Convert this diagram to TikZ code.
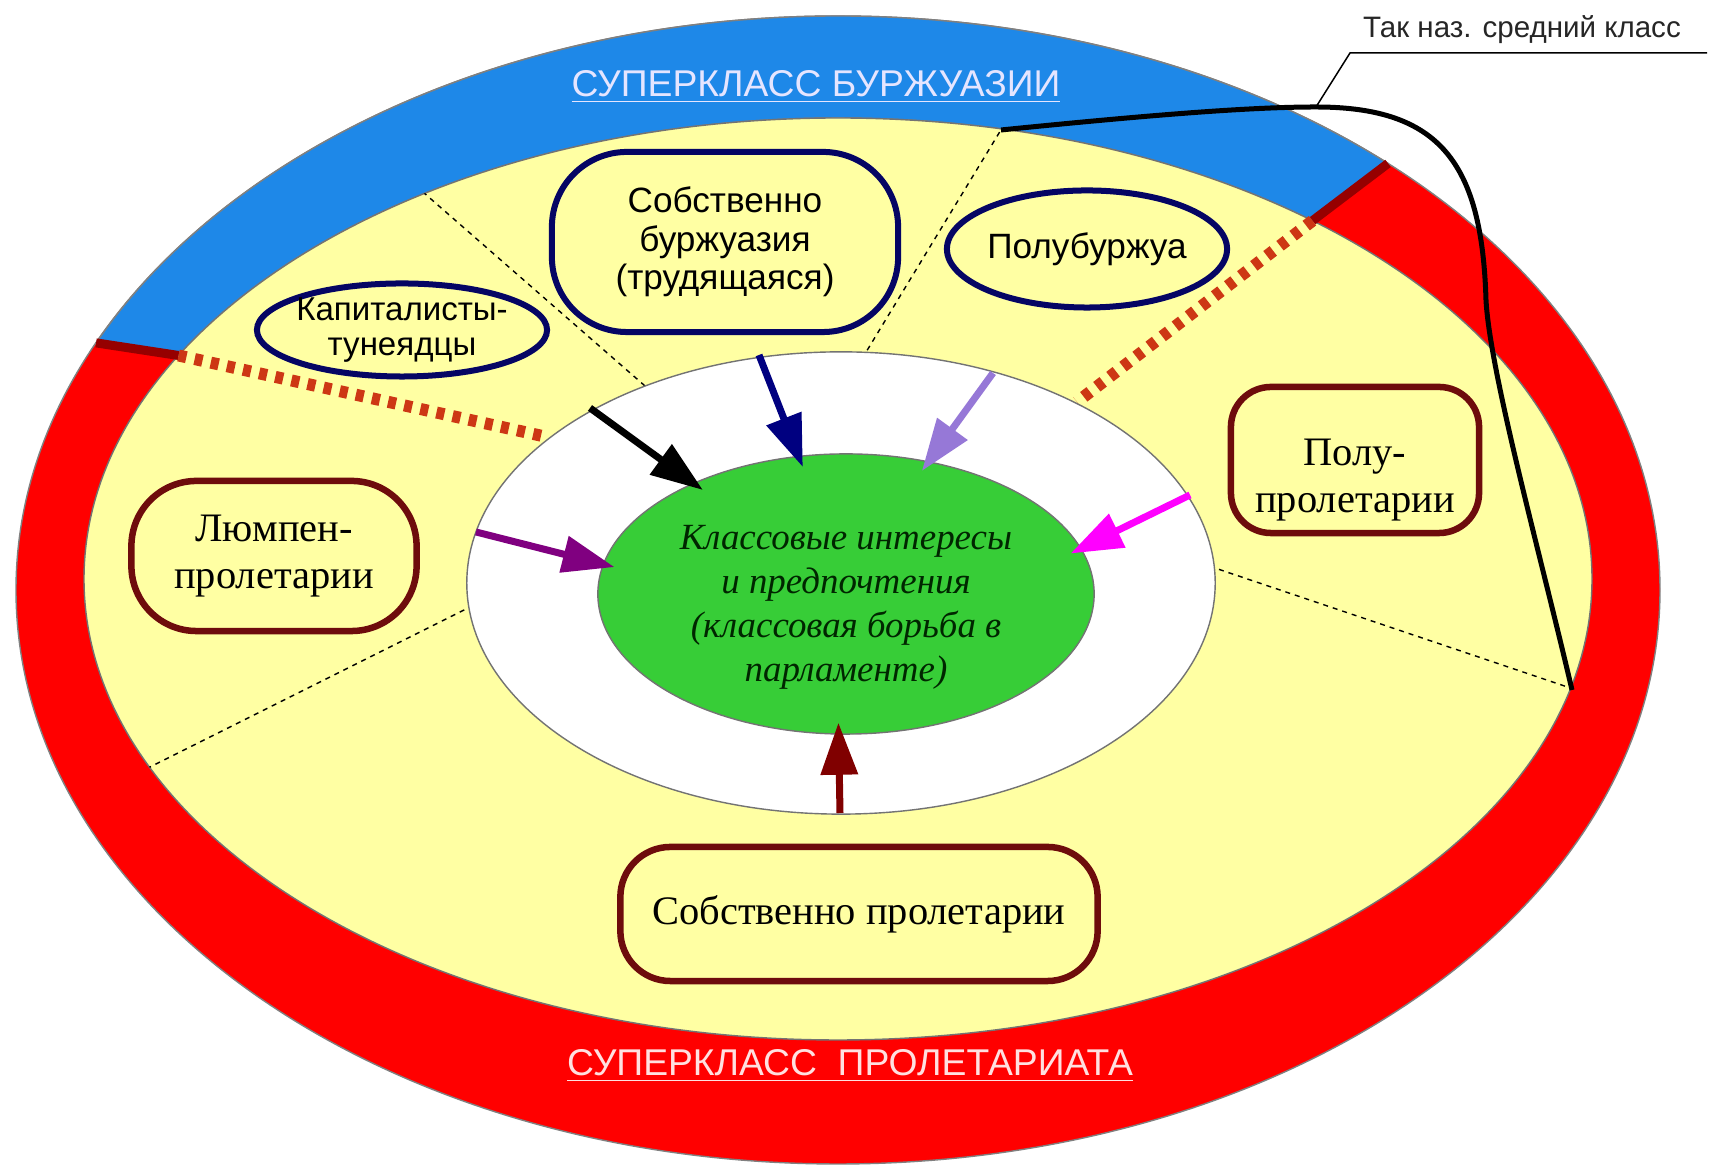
\documentclass[tikz,border=0pt]{standalone}
\usepackage{fontspec}
\setmainfont{Liberation Serif}
\setsansfont{Liberation Sans}
\usepackage{tikz,xcolor}
\usetikzlibrary{shapes.geometric, arrows.meta, positioning}

\begin{document}
\begin{tikzpicture}[x=0.01cm, y=0.01cm]

\definecolor{bourgblue}{RGB}{30,136,232}
\definecolor{paleyellow}{RGB}{255,255,163}
\definecolor{coregreen}{RGB}{55,205,55}
\definecolor{navyline}{RGB}{5,5,100}
\definecolor{brownline}{RGB}{110,12,12}
\definecolor{capred}{RGB}{150,0,0}
\definecolor{tieorange}{RGB}{205,55,20}
\definecolor{navyarrow}{RGB}{0,0,128}
\definecolor{lavarrow}{RGB}{150,120,215}
\definecolor{magarrow}{RGB}{255,0,255}
\definecolor{purarrow}{RGB}{128,0,128}
\definecolor{mararrow}{RGB}{128,0,0}

\tikzstyle{oval} = [ellipse, draw=navyline, fill=paleyellow, line width=0.06cm, inner sep=0pt]
\tikzstyle{pill} = [rectangle, draw=brownline, fill=paleyellow, line width=0.065cm, inner sep=0pt]
\tikzstyle{sanstxt} = [font=\sffamily\fontsize{10}{10.5}\selectfont, align=center, inner sep=0pt]
\tikzstyle{seriftxt} = [font=\fontsize{11.5}{13.4}\selectfont, align=center, inner sep=0pt]
\tikzstyle{divider} = [thin, dash pattern=on 0.05cm off 0.05cm]
\tikzstyle{tie} = [draw=tieorange, line width=0.12cm, dash pattern=on 0.08cm off 0.085cm]
\tikzstyle{capline} = [draw=capred, line width=0.09cm]
\tikzstyle{push} = [-{Triangle[length=0.52cm, width=0.36cm]}, line width=0.07cm, shorten >=-0.12cm]

\fill[white] (0,0) rectangle (1714,1173);
\useasboundingbox (0,0) rectangle (1714,1173);

\coordinate (O) at (838,583);
\coordinate (Yc) at (838,594);
\path (O) ++(48:822 and 574) coordinate (bandRo);
\path (O) ++(154.5:822 and 574) coordinate (bandLo);
\path (Yc) ++(51:754 and 461) coordinate (bandRi);
\path (Yc) ++(151:754 and 461) coordinate (bandLi);

% superclasses
\filldraw[fill=red, draw=black!50, thin] (O) ellipse[x radius=822, y radius=574];
\filldraw[fill=bourgblue, draw=black!50, thin] (bandRo)
  arc[start angle=48, end angle=154.5, x radius=822, y radius=574]
  -- (bandLi) arc[start angle=151, end angle=51, x radius=754, y radius=461] -- cycle;
\filldraw[fill=paleyellow, draw=black!55, thin] (Yc) ellipse[x radius=754, y radius=461];
\draw[capline] (bandLo) -- (bandLi);
\draw[capline] (bandRo) -- (bandRi);

% sectors
\coordinate (d2o) at (1001,1043);
\coordinate (d3o) at (1572,483);
\begin{scope}
\clip (Yc) ellipse[x radius=754, y radius=461];
\draw[divider] (400,1001) -- (700,739);
\draw[divider] (1010,1058) -- (840,778);
\draw[divider] (1200,610) -- (1600,475);
\draw[divider] (500,581) -- (120,391);
\end{scope}

\coordinate (tieL) at (547,736);
\coordinate (tieR) at (1077,771);
\draw[tie] (bandLi) -- (tieL);
\draw[tie] (bandRi) -- (tieR);

% classes
\node[oval, minimum width=2.9cm, minimum height=0.93cm] (kap) at (402,843) {};
\node[sanstxt, font=\sffamily\fontsize{9.4}{9.8}\selectfont] (kapTxt) at (kap) {Капиталисты-\\тунеядцы};
\node[oval, rectangle, rounded corners=0.75cm, minimum width=3.46cm, minimum height=1.8cm] (bourg) at (725,931) {};
\node[sanstxt, font=\sffamily\fontsize{10}{11}\selectfont] (bourgTxt) at (bourg) {Собственно\\буржуазия\\(трудящаяся)};
\node[oval, minimum width=2.8cm, minimum height=1.17cm] (polub) at (1087,924) {};
\node[sanstxt] (polubTxt) at (polub) {Полубуржуа};

\node[pill, rounded corners=0.65cm, minimum width=2.85cm, minimum height=1.5cm] (lump) at (274,617) {};
\node[seriftxt] (lumpTxt) at (lump) {Люмпен-\\пролетарии};
\node[pill, rounded corners=0.4cm, minimum width=2.48cm, minimum height=1.46cm] (polupr) at (1355,713) {};
\node[seriftxt, yshift=-0.2cm] (poluprTxt) at (polupr) {Полу-\\пролетарии};
\node[pill, rounded corners=0.5cm, minimum width=4.77cm, minimum height=1.34cm] (sobpr) at (859,259) {};
\node[seriftxt] (sobprTxt) at (sobpr) {Собственно пролетарии};

% arena of interests
\node[ellipse, draw=black!55, thin, fill=white, minimum width=7.48cm, minimum height=4.62cm, inner sep=0pt] (arena) at (841,590) {};
\node[ellipse, draw=black!55, thin, fill=coregreen, minimum width=4.96cm, minimum height=2.8cm, inner sep=0pt] (core) at (846,579) {};
\node[align=center, inner sep=0pt, text=black!85!green, font=\itshape\fontsize{10.5}{12.5}\selectfont] (coreTxt) at (846,566) {Классовые интересы\\и предпочтения\\(классовая борьба в\\парламенте)};

\coordinate (tBlack) at (590,765);
\coordinate (tNavy) at (759,818);
\coordinate (tLav) at (993,800);
\coordinate (tMag) at (1190,678);
\coordinate (tPur) at (476,641);
\coordinate (tMar) at (840,360);

\draw[push, black] (tBlack) -- (core.144);
\draw[push, navyarrow] (tNavy) -- (core.109);
\draw[push, lavarrow] (tLav) -- (core.58);
\draw[push, magarrow] (tMag) -- (core.11);
\draw[push, purarrow] (tPur) -- (core.173);
\draw[push, mararrow] (tMar) -- (core.267);

% labels
\node[inner sep=0pt, text=white!90!blue, font=\sffamily\fontsize{10.6}{12}\selectfont] (bourgLbl) at (816,1086) {\underline{СУПЕРКЛАСС БУРЖУАЗИИ}};
\node[inner sep=0pt, text=white!88!red, font=\sffamily\fontsize{10.6}{12}\selectfont] (proleLbl) at (850,107) {\underline{СУПЕРКЛАСС~~ПРОЛЕТАРИАТА}};
\node[inner sep=0pt, text=black!85, font=\sffamily\fontsize{8.4}{10}\selectfont] (midLbl) at (1522,1143) {Так наз. средний класс};

% middle class
\coordinate (midTip) at (1316,1066);
\coordinate (leadL) at (1350,1120);
\coordinate (leadR) at (1707,1120);
\draw[line width=0.05cm] (d2o) .. controls (1150,1058) and (1250,1066) .. (midTip)
  .. controls (1440,1066) and (1482,1010) .. (1486,873)
  .. controls (1490,800) and (1540,620) .. (d3o);
\draw[line width=0.015cm] (leadR) -- (leadL) -- (midTip);

\end{tikzpicture}
\end{document}
